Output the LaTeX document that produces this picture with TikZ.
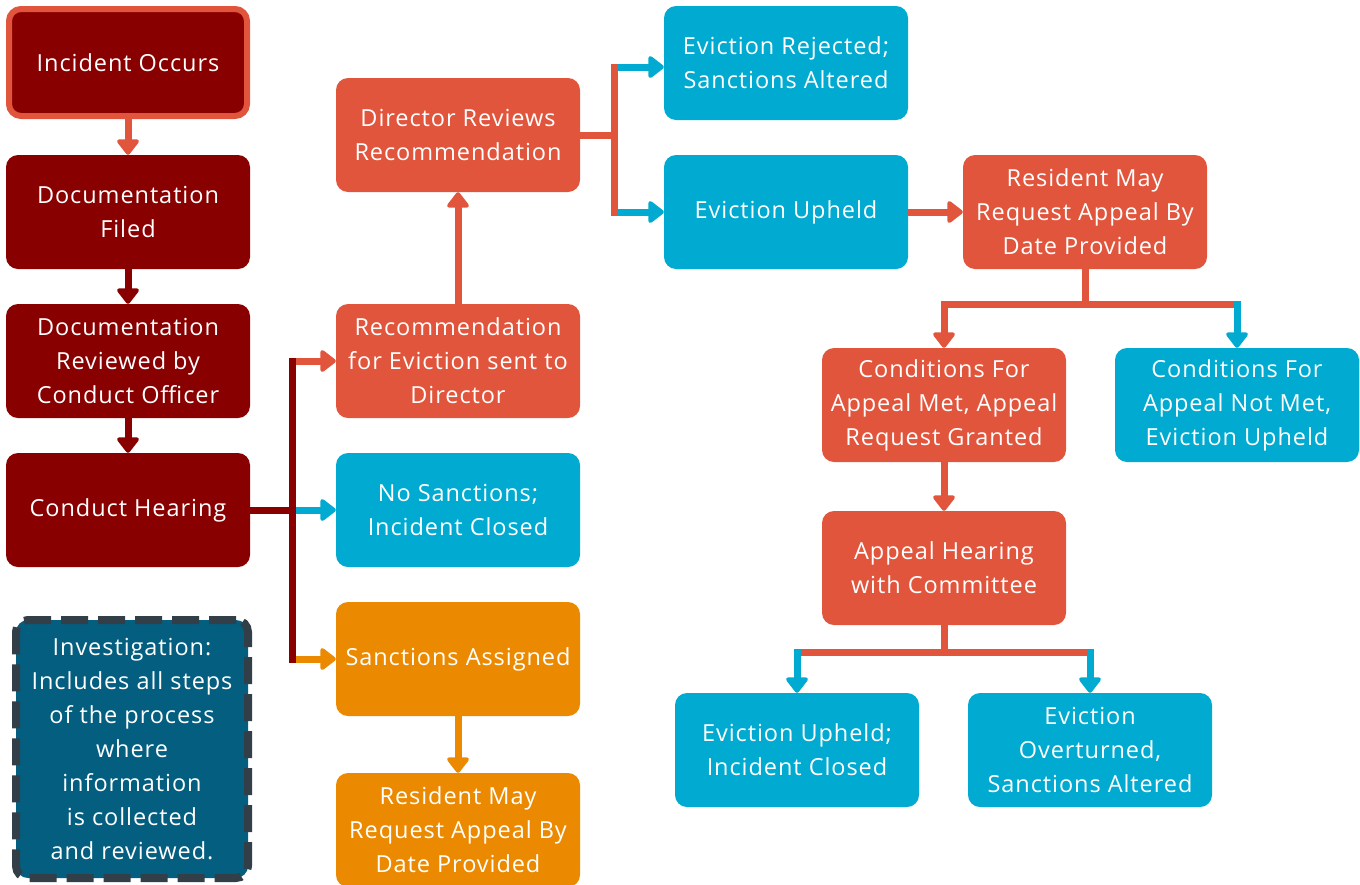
\documentclass[tikz,border=0pt]{standalone}
\usepackage{fontspec}
\setmainfont{Open Sans}[LetterSpace=4]
\usetikzlibrary{arrows.meta,calc}
\definecolor{dred}{HTML}{880000}
\definecolor{rred}{HTML}{E2553D}
\definecolor{cblue}{HTML}{00AAD0}
\definecolor{corange}{HTML}{EB8A00}
\definecolor{ivfill}{HTML}{045E80}
\definecolor{ivline}{HTML}{333F48}
\begin{document}
\begin{tikzpicture}[x=1pt,y=-1pt,
  box/.style={rounded corners=12pt, minimum width=244pt, minimum height=114pt, align=center, text=white, font=\fontsize{23.5}{34}\selectfont, inner sep=0pt},
  darkbox/.style={box, fill=dred},
  redbox/.style={box, fill=rred},
  bluebox/.style={box, fill=cblue},
  orangebox/.style={box, fill=corange},
  conn/.style={line width=7pt},
  arr/.style={conn, -{Triangle[width=25pt,length=17pt,round]}},
  bar/.style={conn, line cap=rect}
]
\useasboundingbox (0,0) rectangle (1360,884);

% left column
\node[darkbox, draw=rred, line width=6pt, minimum width=238pt, minimum height=107pt] (inc) at (128,62.5) {Incident Occurs};
\node[darkbox] (doc) at (128,212) {Documentation\\Filed};
\node[darkbox] (rev) at (128,361) {Documentation\\Reviewed by\\Conduct Officer};
\node[darkbox] (hear) at (128,510) {Conduct Hearing};
\node[box, fill=ivfill, draw=ivline, line width=8pt, dash pattern=on 27pt off 10pt, minimum width=232pt, minimum height=258pt] (inv) at (132,749) {Investigation:\\Includes all steps\\of the process\\where\\information\\is collected\\and reviewed.};

% second column
\node[redbox] (dir) at (458,135) {Director Reviews\\Recommendation};
\node[redbox] (rec) at (458,361) {Recommendation\\for Eviction sent to\\Director};
\node[bluebox] (nos) at (458,510) {No Sanctions;\\Incident Closed};
\node[orangebox] (sanc) at (458,659) {Sanctions Assigned};
\node[orangebox] (res1) at (458,830) {Resident May\\Request Appeal By\\Date Provided};

% third column
\node[bluebox] (rej) at (786,63) {Eviction Rejected;\\Sanctions Altered};
\node[bluebox] (uph) at (786,212) {Eviction Upheld};
\node[redbox] (res2) at (1085,212) {Resident May\\Request Appeal By\\Date Provided};
\node[redbox] (met) at (944,405) {Conditions For\\Appeal Met, Appeal\\Request Granted};
\node[bluebox] (notmet) at (1237,405) {Conditions For\\Appeal Not Met,\\Eviction Upheld};
\node[redbox] (app) at (944,568) {Appeal Hearing\\with Committee};
\node[bluebox] (up2) at (797,750) {Eviction Upheld;\\Incident Closed};
\node[bluebox] (over) at (1090,750) {Eviction\\Overturned,\\Sanctions Altered};

% left column connectors
\draw[arr, rred] (inc.south) -- (doc.north);
\draw[arr, dred] (doc.south) -- (rev.north);
\draw[arr, dred] (rev.south) -- (hear.north);

% hearing split
\coordinate (hj) at ($(hear.east)+(42,0)$);
\draw[conn, dred] (hear.east) -- (hj);
\draw[arr, rred] (hj |- rec.west) -- (rec.west);
\draw[arr, cblue] (hj |- nos.west) -- (nos.west);
\draw[arr, corange] (hj |- sanc.west) -- (sanc.west);
\draw[bar, dred] (hj |- rec.west) -- (hj |- sanc.west);

\draw[arr, rred] (rec.north) -- (dir.south);
\draw[arr, corange] (sanc.south) -- (res1.north);

% director split
\coordinate (dj) at ($(dir.east)+(34,0)$);
\draw[conn, rred] (dir.east) -- (dj);
\draw[arr, cblue] ($(dj |- rej.west)+(0,4)$) -- ($(rej.west)+(0,4)$);
\draw[arr, cblue] (dj |- uph.west) -- (uph.west);
\draw[bar, rred] ($(dj |- rej.west)+(0,4)$) -- (dj |- uph.west);

\draw[arr, rred] (uph.east) -- (res2.west);

% resident split
\coordinate (rj) at ($(res2.south)+(0,35)$);
\draw[conn, rred] (res2.south) -- (rj);
\draw[conn, rred] ($(met.north |- rj)+(-3.5,0)$) -- (notmet.north |- rj);
\draw[arr, rred] (met.north |- rj) -- (met.north);
\draw[arr, cblue] ($(notmet.north |- rj)+(0,-3.5)$) -- (notmet.north);

\draw[arr, rred] (met.south) -- (app.north);

% appeal split
\coordinate (aj) at ($(app.south)+(0,27)$);
\draw[conn, rred] (app.south) -- (aj);
\draw[conn, rred] (up2.north |- aj) -- (over.north |- aj);
\draw[arr, cblue] ($(up2.north |- aj)+(0,-3.5)$) -- (up2.north);
\draw[arr, cblue] ($(over.north |- aj)+(0,-3.5)$) -- (over.north);
\end{tikzpicture}
\end{document}
